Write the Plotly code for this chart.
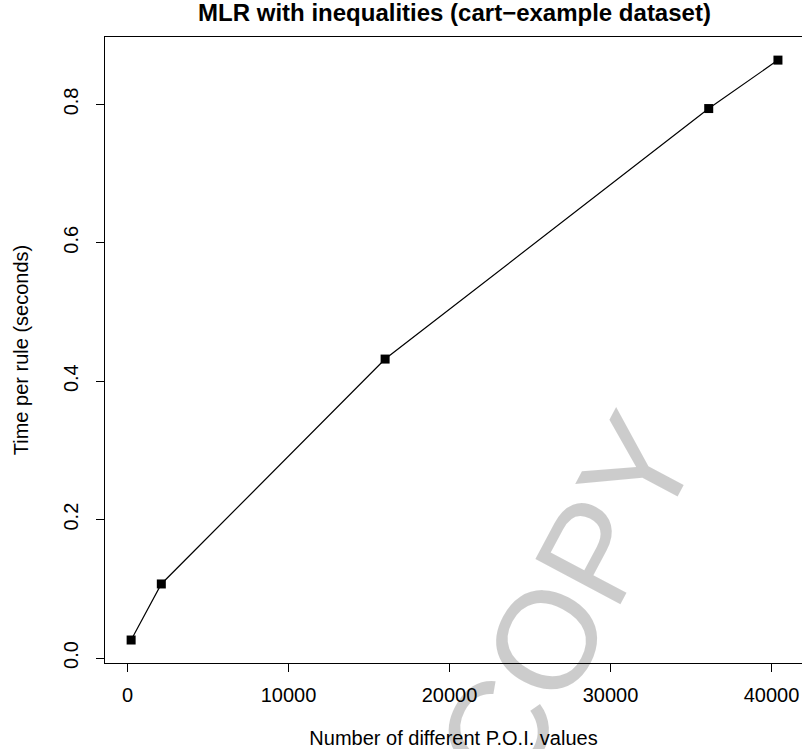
import plotly.graph_objects as go

# Data
poi_values = [225, 2100, 16000, 36100, 40400]
time_per_rule = [0.026, 0.107, 0.432, 0.794, 0.864]

x_tick_vals = [0, 10000, 20000, 30000, 40000]
x_tick_text = ["0", "10000", "20000", "30000", "40000"]
y_tick_vals = [0.0, 0.2, 0.4, 0.6, 0.8]
y_tick_text = ["0.0", "0.2", "0.4", "0.6", "0.8"]

title_text = "MLR with inequalities (cart\u2212example dataset)"
x_title = "Number of different P.O.I. values"
y_title = "Time per rule (seconds)"
watermark = "COPY"

FONT = "Liberation Sans, Arial, Helvetica, sans-serif"
W, H = 802, 749
L, R, T, B = 105, 0, 37, 86

fig = go.Figure()
fig.add_trace(go.Scatter(
    x=poi_values, y=time_per_rule, mode="lines+markers",
    line=dict(color="black", width=1.2),
    marker=dict(symbol="square", size=9, color="black"),
    showlegend=False, cliponaxis=False, hoverinfo="skip",
))

fig.update_layout(
    width=W, height=H,
    margin=dict(l=L, r=R, t=T, b=B, autoexpand=False),
    paper_bgcolor="white", plot_bgcolor="white",
    font=dict(family=FONT, color="black", size=20),
    title=dict(text="<b>" + title_text + "</b>", x=(L + (W - L) / 2 + 1) / W, xanchor="center",
               xref="container", y=1 - 13 / H, yanchor="middle", yref="container",
               font=dict(size=24, family=FONT, color="black")),
    xaxis=dict(
        range=[-1398, 41894], showgrid=False, zeroline=False,
        showline=True, linecolor="black", linewidth=1, mirror=True,
        ticks="outside", ticklen=8, tickcolor="black", tickwidth=1,
        tickvals=x_tick_vals, ticktext=x_tick_text, ticklabelstandoff=6,
        tickfont=dict(size=20, family=FONT, color="black"),
        title=dict(text=x_title, standoff=25, font=dict(size=20, family=FONT, color="black")),
        automargin=False,
    ),
    yaxis=dict(
        range=[-0.0072, 0.8974], showgrid=False, zeroline=False,
        showline=True, linecolor="black", linewidth=1, mirror=False,
        ticks="outside", ticklen=8, tickcolor="black", tickwidth=1,
        tickvals=y_tick_vals, ticktext=y_tick_text, tickangle=-90, ticklabelstandoff=10,
        tickfont=dict(size=20, family=FONT, color="black"),
        title=dict(text=y_title, standoff=26, font=dict(size=20, family=FONT, color="black")),
        automargin=False,
    ),
)

# watermark (translucent so dark text stays dark beneath it)
fig.add_annotation(
    text=watermark, xref="paper", yref="paper",
    x=(566 - L) / (W - L), y=(H - B - 602) / (H - T - B),
    xanchor="center", yanchor="middle",
    showarrow=False, textangle=-62,
    font=dict(size=140, family=FONT, color="rgba(0,0,0,0.2)"),
)

fig.write_html(
    "out.html",
    config={"displayModeBar": False, "staticPlot": True},
    post_script="document.body.style.margin='0';document.body.style.overflow='hidden';",
)
